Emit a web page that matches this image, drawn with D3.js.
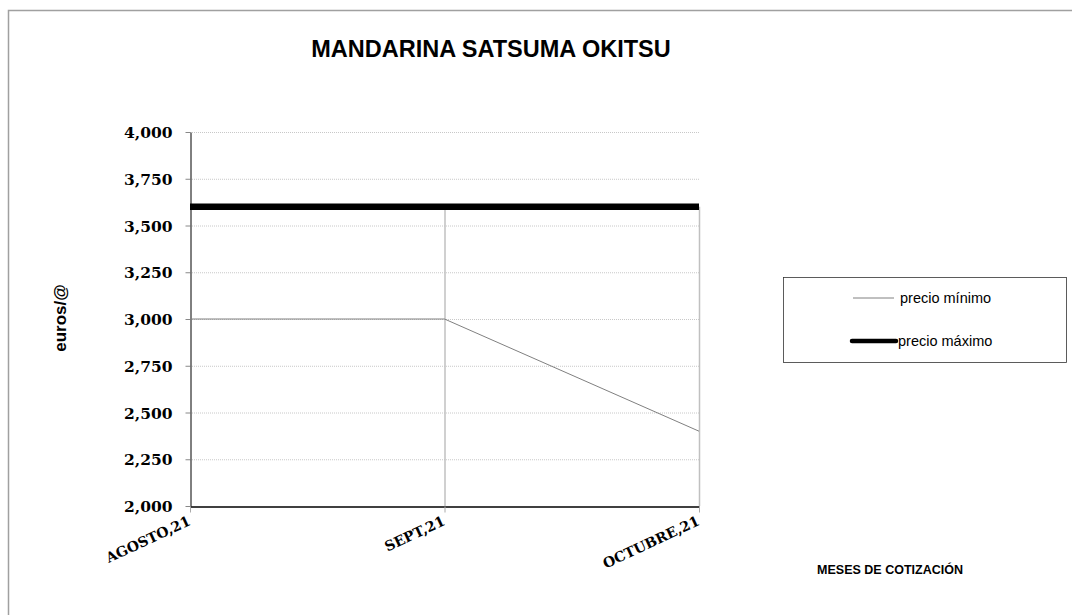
<!DOCTYPE html>
<meta charset="utf-8">
<head>
  <style>
    body { margin: 0; background: #fff; }
    svg text { font-family: "Liberation Sans", Arial, sans-serif; }
    svg .tick text { font-family: "DejaVu Serif", "Liberation Serif", serif; font-weight: bold; font-size: 15.5px; fill: #000; }
    svg .grid { stroke: #c8c8c8; stroke-dasharray: 1,1; }
  </style>
</head>
<body>
<script src="https://d3js.org/d3.v7.min.js"></script>
<script>
  var months = ["AGOSTO,21", "SEPT,21", "OCTUBRE,21"];
  var precioMinimo = [3.0, 3.0, 2.4];
  var precioMaximo = [3.6, 3.6, 3.6];
  var yTicks = [2.0, 2.25, 2.5, 2.75, 3.0, 3.25, 3.5, 3.75, 4.0];

  var width = 1072, height = 615;
  var plot = { left: 190, right: 699, top: 132, bottom: 506 };

  var svg = d3.select("body").append("svg")
      .attr("width", width)
      .attr("height", height);

  // outer frame
  svg.append("rect")
      .attr("x", 8.5).attr("y", 10.5)
      .attr("width", width).attr("height", height)
      .style("fill", "none").style("stroke", "#a0a0a0").style("stroke-width", 1.5);

  var xScale = d3.scalePoint().domain(months).range([plot.left, plot.right]);
  var yScale = d3.scaleLinear().domain([2, 4]).range([plot.bottom, plot.top]);

  var fmt = function (d) { return d3.format(".3f")(d).replace(".", ","); };

  // horizontal grid
  svg.append("g").selectAll("line")
    .data(yTicks.filter(function (d) { return d > 2; }))
    .join("line")
      .classed("grid", true)
      .attr("x1", plot.left).attr("x2", plot.right)
      .attr("y1", function (d) { return yScale(d) + 0.5; })
      .attr("y2", function (d) { return yScale(d) + 0.5; });

  // drop lines from max series
  svg.append("g").selectAll("line")
    .data(months.slice(1))
    .join("line")
      .attr("x1", function (d) { return xScale(d) + 0.5; })
      .attr("x2", function (d) { return xScale(d) + 0.5; })
      .attr("y1", function (d, i) { return yScale(precioMaximo[i + 1]); })
      .attr("y2", plot.bottom)
      .style("stroke", "#c0c0c0").style("stroke-width", 1.5);

  // y axis
  var yAxis = d3.axisLeft(yScale).tickValues(yTicks).tickFormat(fmt).tickSize(5).tickSizeOuter(0).tickPadding(13);
  var ya = svg.append("g")
      .attr("transform", "translate(" + (plot.left + 0.5) + ",0)")
      .call(yAxis);
  ya.select(".domain").style("stroke", "#000");
  ya.selectAll(".tick line").style("stroke", "#888");
  ya.selectAll(".tick text").attr("dy", "0.36em");

  // x axis
  var xAxis = d3.axisBottom(xScale).tickSize(6).tickSizeOuter(0).tickPadding(4);
  var xa = svg.append("g")
      .attr("transform", "translate(0," + (plot.bottom + 0.5) + ")")
      .call(xAxis);
  xa.select(".domain").style("stroke", "#000").style("stroke-width", 1.5);
  xa.selectAll(".tick line").style("stroke", "#aaa");
  xa.selectAll(".tick text")
      .style("text-anchor", "end")
      .style("font-size", "14px")
      .attr("x", 0).attr("y", 0)
      .attr("dy", 0)
      .attr("transform", "translate(1,18) rotate(-25)");

  var line = d3.line()
      .x(function (d, i) { return xScale(months[i]); })
      .y(function (d) { return yScale(d); });

  svg.append("path")
      .datum(precioMinimo)
      .attr("d", line)
      .style("fill", "none").style("stroke", "#808080").style("stroke-width", 1);

  svg.append("path")
      .datum(precioMaximo)
      .attr("d", line)
      .style("fill", "none").style("stroke", "#000").style("stroke-width", 6.5);

  // title
  svg.append("text")
      .attr("x", 491).attr("y", 57)
      .style("text-anchor", "middle")
      .style("font-weight", "bold").style("font-size", "23.5px")
      .text("MANDARINA SATSUMA OKITSU");

  // axis titles
  svg.append("text")
      .attr("transform", "translate(66,318) rotate(-90)")
      .style("text-anchor", "middle")
      .style("font-weight", "bold").style("font-size", "17px")
      .text("euros/@");

  svg.append("text")
      .attr("x", 890).attr("y", 574)
      .style("text-anchor", "middle")
      .style("font-weight", "bold").style("font-size", "12.5px")
      .text("MESES DE COTIZACIÓN");

  // legend
  var legend = svg.append("g");
  legend.append("rect")
      .attr("x", 783.5).attr("y", 277.5)
      .attr("width", 283).attr("height", 85)
      .style("fill", "#fff").style("stroke", "#333").style("stroke-width", 0.8);

  var legendItems = [
    { name: "precio mínimo", color: "#808080", w: 1, y: 298, x1: 853, x2: 894, tx: 900 },
    { name: "precio máximo", color: "#000", w: 4.5, y: 341, x1: 852, x2: 896, tx: 898 }
  ];
  legendItems.forEach(function (d) {
    legend.append("line")
        .attr("x1", d.x1).attr("x2", d.x2).attr("y1", d.y).attr("y2", d.y)
        .style("stroke", d.color).style("stroke-width", d.w)
        .style("stroke-linecap", d.w > 1 ? "round" : "butt");
    legend.append("text")
        .attr("x", d.tx).attr("y", d.y + 5)
        .style("font-size", "14.5px")
        .text(d.name);
  });
</script>
</body>
</html>
